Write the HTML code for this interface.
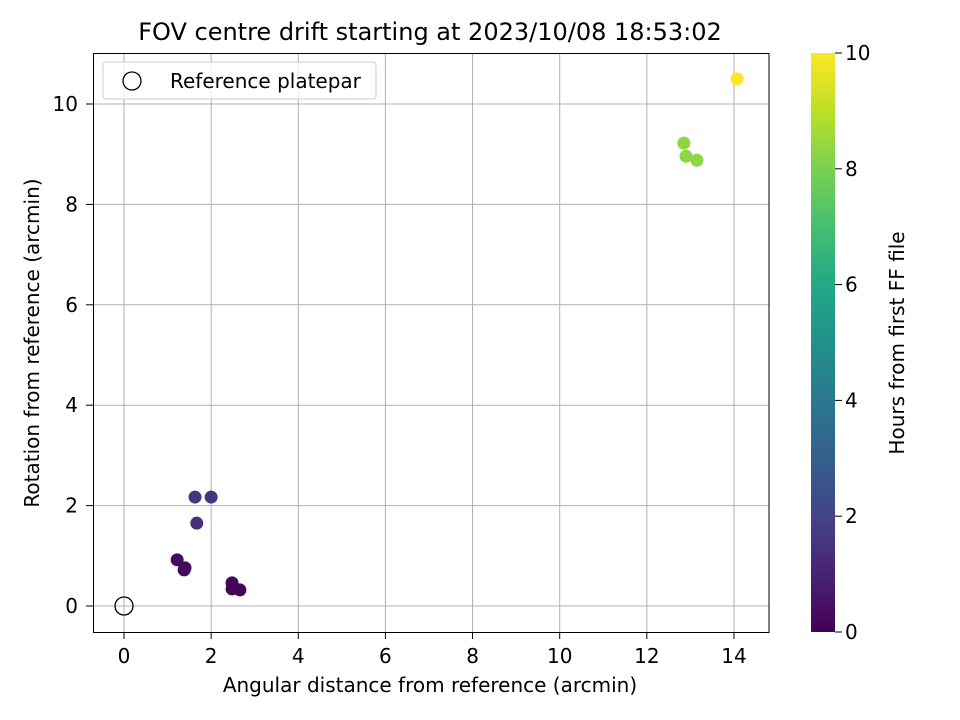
<!DOCTYPE html>
<html><head><meta charset="utf-8">
<style>body{margin:0;background:#fff;}svg{display:block;font-family:"DejaVu Sans","Liberation Sans",sans-serif;}</style>
</head><body>
<svg id="chart" width="960" height="720" xmlns="http://www.w3.org/2000/svg">
<defs>
<linearGradient id="vir" x1="0" y1="1" x2="0" y2="0">
<stop offset="0" stop-color="#440154"/><stop offset="0.1" stop-color="#482475"/><stop offset="0.2" stop-color="#414487"/><stop offset="0.3" stop-color="#355f8d"/><stop offset="0.4" stop-color="#2a788e"/><stop offset="0.5" stop-color="#21918c"/><stop offset="0.6" stop-color="#22a884"/><stop offset="0.7" stop-color="#44bf70"/><stop offset="0.8" stop-color="#7ad151"/><stop offset="0.9" stop-color="#bddf26"/><stop offset="1" stop-color="#fde725"/>
</linearGradient>
</defs>
<g id="grid"></g>
<g id="points"></g>
<rect x="93.5" y="53.5" width="675.5" height="579" fill="none" stroke="#000" stroke-width="1"/>
<g id="axes"></g>
<text x="430" y="40" font-size="24" text-anchor="middle">FOV centre drift starting at 2023/10/08 18:53:02</text>
<text x="430" y="692" font-size="20" text-anchor="middle">Angular distance from reference (arcmin)</text>
<text transform="translate(39,343) rotate(-90)" font-size="20" text-anchor="middle">Rotation from reference (arcmin)</text>
<g>
<rect x="103" y="62" width="273" height="37" rx="3" fill="#fff" fill-opacity="0.8" stroke="#ccc"/>
<circle cx="132" cy="81" r="9" fill="none" stroke="#000" stroke-width="1.3"/>
<text x="170" y="88" font-size="20">Reference platepar</text>
</g>
<rect x="811" y="53" width="24" height="579" fill="url(#vir)"/>
<g id="cbar"></g>
<text transform="translate(904,343) rotate(-90)" font-size="20" text-anchor="middle">Hours from first FF file</text>
</svg>
<script>
const xVals=[1.63,2.0,1.67,1.22,1.40,1.38,2.48,2.48,2.66,14.07,12.85,12.9,13.15];
const yVals=[2.17,2.17,1.65,0.92,0.76,0.72,0.46,0.34,0.32,10.5,9.22,8.96,8.88];
const hours=[1.5,1.5,1.4,0.3,0.3,0.3,0.1,0.1,0.1,10,8.3,8.3,8.3];
const xTicks=[0,2,4,6,8,10,12,14];
const yTicks=[0,2,4,6,8,10];
const cTicks=[0,2,4,6,8,10];
const refPoint=[0,0];
const NS="http://www.w3.org/2000/svg";
const sx=v=>124+v*43.57, sy=v=>606-v*50.2, sc=v=>632-v*57.9;
const vir=["#440154","#482475","#414487","#355f8d","#2a788e","#21918c","#22a884","#44bf70","#7ad151","#bddf26","#fde725"];
function col(h){const t=Math.max(0,Math.min(10,h));const i=Math.min(9,Math.floor(t));const f=t-i;
const a=vir[i],b=vir[i+1];const c=k=>Math.round(parseInt(a.substr(k,2),16)*(1-f)+parseInt(b.substr(k,2),16)*f);
return `rgb(${c(1)},${c(3)},${c(5)})`;}
function mk(tag,at,parent){const e=document.createElementNS(NS,tag);for(const k in at)e.setAttribute(k,at[k]);document.getElementById(parent).appendChild(e);return e;}
xTicks.forEach(t=>{
const g=mk('line',{x1:sx(t),x2:sx(t),y1:53,y2:632,stroke:'#b0b0b0','stroke-width':1},'grid');


const tk=mk('line',{x1:sx(t),x2:sx(t),y1:632,y2:639,stroke:'#000'},'axes');


const tx=mk('text',{x:sx(t),y:663,'font-size':20,'text-anchor':'middle'},'axes');tx.textContent=t;


});
yTicks.forEach(t=>{
const g=mk('line',{x1:93,x2:769,y1:sy(t),y2:sy(t),stroke:'#b0b0b0','stroke-width':1},'grid');


const tk=mk('line',{x1:86,x2:93,y1:sy(t),y2:sy(t),stroke:'#000'},'axes');


const tx=mk('text',{x:78,y:sy(t)+7,'font-size':20,'text-anchor':'end'},'axes');tx.textContent=t;


});
cTicks.forEach(t=>{
const tk=mk('line',{x1:835,x2:842,y1:sc(t),y2:sc(t),stroke:'#000'},'cbar');


const tx=mk('text',{x:845,y:sc(t)+7,'font-size':20},'cbar');tx.textContent=t;


});
xVals.forEach((v,i)=>{
const c=mk('circle',{cx:sx(v),cy:sy(yVals[i]),r:6.5,fill:col(hours[i])},'points');


});
const r=mk('circle',{cx:sx(refPoint[0]),cy:sy(refPoint[1]),r:9,fill:'none',stroke:'#000','stroke-width':1.3},'points');


</script>
</body></html>
